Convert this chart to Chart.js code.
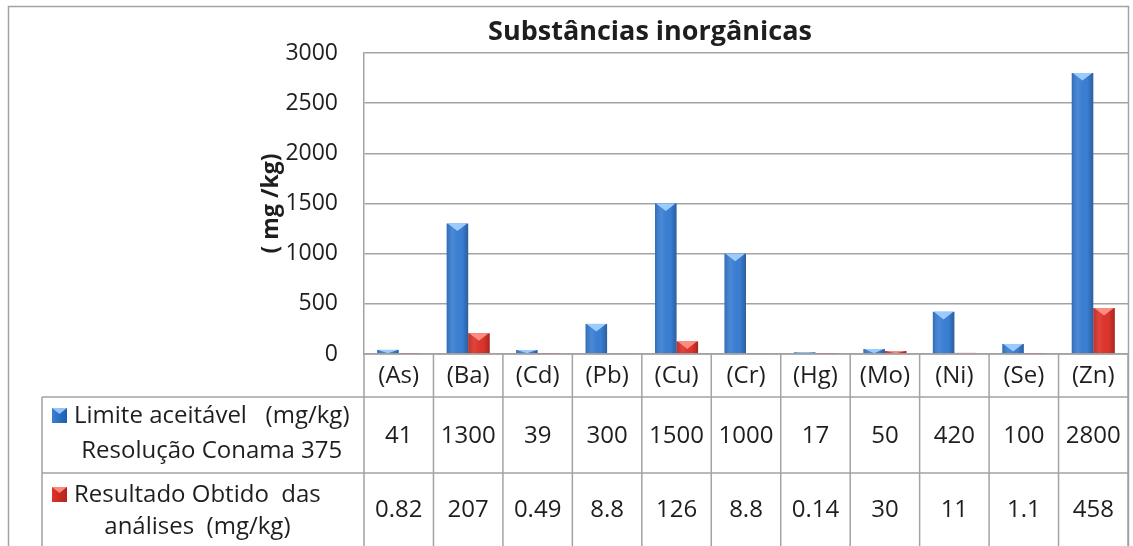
<!DOCTYPE html>
<html>
<head>
<meta charset="utf-8">
<script src="https://cdn.jsdelivr.net/npm/chart.js@4/dist/chart.umd.min.js"></script>
<style>
  html, body { margin: 0; padding: 0; background: #fff; }
  #wrap { width: 1133px; height: 546px; }
</style>
</head>
<body>
<div id="wrap"><canvas id="chart" width="1133" height="546"></canvas></div>
<script>
// Elements analysed
const categories = ['(As)', '(Ba)', '(Cd)', '(Pb)', '(Cu)', '(Cr)', '(Hg)', '(Mo)', '(Ni)', '(Se)', '(Zn)'];
// Limite aceitável (mg/kg) – Resolução Conama 375
const limiteAceitavel = [41, 1300, 39, 300, 1500, 1000, 17, 50, 420, 100, 2800];
// Resultado obtido das análises (mg/kg)
const resultadoObtido = [0.82, 207, 0.49, 8.8, 126, 8.8, 0.14, 30, 11, 1.1, 458];
const yTicks = [0, 500, 1000, 1500, 2000, 2500, 3000];

const seriesNames = [
  ['Limite aceitável   (mg/kg)', 'Resolução Conama 375'],
  ['Resultado Obtido  das', 'análises  (mg/kg)']
];
const chartTitle = 'Substâncias inorgânicas';
const yTitle = '( mg /kg)';

const FONT = '"Open Sans", "DejaVu Sans", sans-serif';
const LINE = '#a3a3a3';
const TEXT = '#1e1e1e';
const BLUE = '#3a7fd4';
const RED = '#de342b';

// Shading on each column: darker sides and a light bevel at the top
const bevelPlugin = {
  id: 'bevel',
  afterDatasetsDraw(chart) {
    const c = chart.ctx;
    chart.data.datasets.forEach((ds, di) => {
      const meta = chart.getDatasetMeta(di);
      const light = di === 0 ? 'rgba(160,208,255,0.95)' : 'rgba(255,150,140,0.9)';
      meta.data.forEach(bar => {
        const w = bar.width, x0 = bar.x - w / 2, top = bar.y, base = bar.base;
        const h = base - top;
        if (h < 0.5) return;
        c.save();
        const g = c.createLinearGradient(x0, 0, x0 + w, 0);
        g.addColorStop(0, 'rgba(0,0,0,0.15)');
        g.addColorStop(0.3, 'rgba(255,255,255,0.08)');
        g.addColorStop(0.7, 'rgba(0,0,0,0.0)');
        g.addColorStop(1, 'rgba(0,0,0,0.25)');
        c.fillStyle = g;
        c.fillRect(x0, top, w, h);
        const bh = Math.min(h, w * 0.35);
        c.beginPath();
        c.moveTo(x0 + 1, top);
        c.lineTo(x0 + w - 1, top);
        c.lineTo(x0 + w / 2, top + bh);
        c.closePath();
        c.fillStyle = light;
        c.fill();
        c.restore();
      });
    });
  }
};

// Title, frame and the data table under the plot
const tablePlugin = {
  id: 'dataTable',
  afterDraw(chart) {
    const c = chart.ctx;
    const area = chart.chartArea;
    const xs = chart.scales.x;
    const n = chart.data.labels.length;
    const colW = (area.right - area.left) / n;
    const H = chart.height;
    const rowHead = 397, rowMid = 473;
    const legLeft = 42;

    c.save();
    // outer frame
    c.strokeStyle = LINE;
    c.lineWidth = 1.5;
    c.strokeRect(8.5, 6.5, area.right - 8, H + 10);

    // title
    c.fillStyle = TEXT;
    c.font = 'bold 27px ' + FONT;
    c.textAlign = 'center';
    c.textBaseline = 'middle';
    c.fillText(chartTitle, 650, 32);

    // table grid
    c.lineWidth = 1.5;
    c.beginPath();
    c.moveTo(area.left, area.bottom); c.lineTo(area.right, area.bottom);
    c.moveTo(legLeft, rowHead); c.lineTo(area.right, rowHead);
    c.moveTo(legLeft, rowMid); c.lineTo(area.right, rowMid);
    c.moveTo(legLeft, rowHead); c.lineTo(legLeft, H);
    for (let i = 0; i <= n; i++) {
      const x = area.left + i * colW;
      c.moveTo(x, area.bottom); c.lineTo(x, H);
    }
    c.stroke();

    // category labels and values
    c.font = '24px ' + FONT;
    c.fillStyle = TEXT;
    const rows = [chart.data.datasets[0].data, chart.data.datasets[1].data];
    chart.data.labels.forEach((lab, i) => {
      const cx = xs.getPixelForValue(i);
      c.fillText(lab, cx, 376);
      c.fillText(String(rows[0][i]), cx, 436);
      c.fillText(String(rows[1][i]), cx, 510);
    });

    // series legend cells: key swatch, first line after it, second line centred under the first
    const keys = [BLUE, RED];
    const darks = ['#1d5fae', '#b3221c'];
    const lineY = [[416, 451], [495, 527]];
    const textLeft = 74;
    seriesNames.forEach((lines, si) => {
      c.fillStyle = TEXT;
      const tw = c.measureText(lines[0]).width;
      c.textAlign = 'left';
      c.fillText(lines[0], textLeft, lineY[si][0]);
      c.textAlign = 'center';
      c.fillText(lines[1], textLeft + tw / 2, lineY[si][1]);
      const kx = 52, ky = lineY[si][0] - 8;
      const g = c.createLinearGradient(kx, 0, kx + 15, 0);
      g.addColorStop(0, keys[si]);
      g.addColorStop(1, darks[si]);
      c.fillStyle = g;
      c.fillRect(kx, ky, 15, 15);
      c.fillStyle = si === 0 ? 'rgba(160,205,255,0.9)' : 'rgba(255,150,140,0.9)';
      c.beginPath();
      c.moveTo(kx, ky); c.lineTo(kx + 15, ky); c.lineTo(kx + 7.5, ky + 6);
      c.closePath(); c.fill();
    });
    c.restore();
  }
};

new Chart(document.getElementById('chart'), {
  type: 'bar',
  data: {
    labels: categories,
    datasets: [
      { label: seriesNames[0].join(' '), data: limiteAceitavel, backgroundColor: BLUE,
        categoryPercentage: 0.62, barPercentage: 1.0 },
      { label: seriesNames[1].join(' '), data: resultadoObtido, backgroundColor: RED,
        categoryPercentage: 0.62, barPercentage: 1.0 }
    ]
  },
  options: {
    responsive: false,
    animation: false,
    events: [],
    layout: { padding: { left: 0, right: 5, top: 53, bottom: 192 } },
    plugins: { legend: { display: false }, title: { display: false }, tooltip: { enabled: false } },
    scales: {
      x: { display: false },
      y: {
        min: 0, max: 3000,
        afterBuildTicks(scale) { scale.ticks = yTicks.map(v => ({ value: v })); },
        afterFit(scale) { scale.width = 364; },
        grid: { color: LINE, lineWidth: 1.5, drawTicks: false },
        border: { color: LINE, width: 1.5 },
        ticks: { color: TEXT, padding: 26, font: { family: FONT, size: 23 },
                 callback: v => String(v) },
        title: {
          display: true, text: yTitle, color: TEXT,
          font: { family: FONT, size: 23, weight: 'bold' },
          padding: { top: 258, bottom: 0 }
        }
      }
    }
  },
  plugins: [bevelPlugin, tablePlugin]
});
</script>
</body>
</html>
